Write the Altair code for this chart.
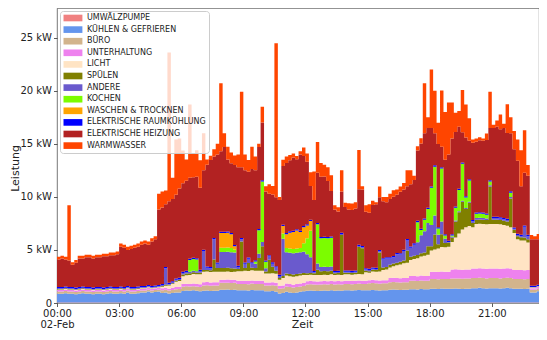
import altair as alt
import pandas as pd

SERIES = ["UMWÄLZPUMPE", "KÜHLEN & GEFRIEREN", "BÜRO", "UNTERHALTUNG", "LICHT", "SPÜLEN",
          "ANDERE", "KOCHEN", "WASCHEN & TROCKNEN", "ELEKTRISCHE RAUMKÜHLUNG",
          "ELEKTRISCHE HEIZUNG", "WARMWASSER"]
COLORS = ["#f08080", "#6495ed", "#d2b48c", "#ee82ee", "#ffe4c4", "#808000",
          "#6a5acd", "#7cfc00", "#ffa500", "#0000ff", "#b22222", "#ff4500"]

STEP_MIN = 10  # one value every 10 minutes, 00:00 .. 23:50 (6 values per row = 1 hour)

UMWAELZPUMPE = [
    0.05, 0.05, 0.05, 0.05, 0.05, 0.05,  0.05, 0.05, 0.05, 0.05, 0.05, 0.05,
    0.05, 0.05, 0.05, 0.05, 0.05, 0.05,  0.05, 0.05, 0.05, 0.05, 0.05, 0.05,
    0.05, 0.05, 0.05, 0.05, 0.05, 0.05,  0.05, 0.05, 0.05, 0.05, 0.05, 0.05,
    0.05, 0.05, 0.05, 0.05, 0.05, 0.05,  0.05, 0.05, 0.05, 0.05, 0.05, 0.05,
    0.05, 0.05, 0.05, 0.05, 0.05, 0.05,  0.05, 0.05, 0.05, 0.05, 0.05, 0.05,
    0.05, 0.05, 0.05, 0.05, 0.05, 0.05,  0.05, 0.05, 0.05, 0.05, 0.05, 0.05,
    0.05, 0.05, 0.05, 0.05, 0.05, 0.05,  0.05, 0.05, 0.05, 0.05, 0.05, 0.05,
    0.05, 0.05, 0.05, 0.05, 0.05, 0.05,  0.05, 0.05, 0.05, 0.05, 0.05, 0.05,
    0.05, 0.05, 0.05, 0.05, 0.05, 0.05,  0.05, 0.05, 0.05, 0.05, 0.05, 0.05,
    0.05, 0.05, 0.05, 0.05, 0.05, 0.05,  0.05, 0.05, 0.05, 0.05, 0.05, 0.05,
    0.05, 0.05, 0.05, 0.05, 0.05, 0.05,  0.05, 0.05, 0.05, 0.05, 0.05, 0.05,
    0.05, 0.05, 0.05, 0.05, 0.05, 0.05,  0.05, 0.05, 0.05, 0.05, 0.05, 0.05,
]
KUEHLEN = [
    0.83, 0.83, 0.88, 0.83, 0.83, 0.78,  0.83, 0.88, 0.83, 0.83, 0.78, 0.83,
    0.83, 0.78, 0.83, 0.88, 0.83, 0.83,  0.88, 0.83, 0.93, 0.83, 0.83, 0.88,
    0.93, 0.93, 1.03, 0.93, 0.98, 1.03,  0.90, 0.95, 0.85, 0.90, 0.95, 0.95,
    1.08, 1.12, 1.10, 1.14, 1.10, 1.06,  1.10, 1.12, 1.08, 1.10, 1.10, 1.20,
    1.20, 1.22, 1.18, 1.20, 1.15, 1.15,  1.15, 1.12, 1.18, 1.15, 1.15, 1.15,
    1.05, 1.05, 1.08, 1.02, 0.85, 0.90,  1.00, 0.95, 0.90, 0.95, 1.00, 1.05,
    1.10, 1.12, 1.10, 1.08, 1.10, 1.12,  1.10, 1.15, 1.10, 1.12, 1.10, 1.15,
    1.15, 1.12, 1.15, 1.18, 1.15, 1.15,  1.15, 1.18, 1.15, 1.12, 1.15, 1.15,
    1.20, 1.22, 1.20, 1.18, 1.20, 1.20,  1.25, 1.25, 1.22, 1.28, 1.25, 1.25,
    1.30, 1.30, 1.28, 1.32, 1.30, 1.30,  1.30, 1.32, 1.30, 1.28, 1.30, 1.30,
    1.35, 1.35, 1.38, 1.35, 1.32, 1.35,  1.35, 1.35, 1.32, 1.35, 1.38, 1.35,
    1.30, 1.30, 1.30, 1.28, 1.30, 0.95,  0.95, 1.05, 0.95, 1.05, 1.05, 0.95,
]
BUERO = [
    0.20, 0.20, 0.20, 0.20, 0.20, 0.20,  0.20, 0.20, 0.20, 0.20, 0.20, 0.20,
    0.20, 0.20, 0.20, 0.20, 0.20, 0.20,  0.20, 0.20, 0.20, 0.20, 0.20, 0.20,
    0.20, 0.20, 0.20, 0.20, 0.20, 0.20,  0.25, 0.25, 0.27, 0.28, 0.30, 0.32,
    0.40, 0.40, 0.40, 0.40, 0.40, 0.40,  0.50, 0.50, 0.50, 0.50, 0.50, 0.65,
    0.65, 0.65, 0.65, 0.65, 0.60, 0.60,  0.60, 0.60, 0.60, 0.60, 0.60, 0.60,
    0.55, 0.55, 0.55, 0.55, 0.45, 0.45,  0.50, 0.50, 0.50, 0.50, 0.50, 0.50,
    0.60, 0.60, 0.60, 0.60, 0.60, 0.60,  0.60, 0.60, 0.60, 0.60, 0.60, 0.60,
    0.60, 0.60, 0.60, 0.60, 0.60, 0.60,  0.65, 0.65, 0.65, 0.65, 0.65, 0.65,
    0.70, 0.70, 0.70, 0.70, 0.70, 0.70,  0.80, 0.80, 0.80, 0.80, 0.80, 0.80,
    0.90, 0.90, 0.90, 0.90, 0.90, 0.90,  0.95, 0.95, 0.95, 0.95, 0.95, 0.95,
    0.95, 0.95, 0.95, 0.95, 0.95, 0.95,  0.95, 0.95, 0.95, 0.95, 0.95, 0.95,
    0.90, 0.90, 0.90, 0.90, 0.90, 0.25,  0.25, 0.25, 0.25, 0.25, 0.25, 0.25,
]
UNTERHALTUNG = [
    0.15, 0.15, 0.15, 0.15, 0.15, 0.15,  0.15, 0.15, 0.15, 0.15, 0.15, 0.15,
    0.15, 0.15, 0.15, 0.15, 0.15, 0.15,  0.15, 0.15, 0.15, 0.15, 0.15, 0.15,
    0.15, 0.15, 0.15, 0.15, 0.15, 0.15,  0.18, 0.18, 0.18, 0.20, 0.20, 0.20,
    0.25, 0.25, 0.25, 0.25, 0.25, 0.25,  0.30, 0.30, 0.30, 0.30, 0.30, 0.30,
    0.30, 0.30, 0.30, 0.30, 0.30, 0.30,  0.30, 0.30, 0.30, 0.30, 0.30, 0.30,
    0.28, 0.28, 0.28, 0.28, 0.25, 0.25,  0.28, 0.28, 0.28, 0.28, 0.28, 0.28,
    0.30, 0.30, 0.30, 0.30, 0.30, 0.30,  0.30, 0.30, 0.30, 0.30, 0.30, 0.30,
    0.30, 0.30, 0.30, 0.30, 0.30, 0.30,  0.30, 0.30, 0.30, 0.30, 0.30, 0.30,
    0.40, 0.40, 0.40, 0.40, 0.40, 0.40,  0.45, 0.45, 0.45, 0.45, 0.45, 0.45,
    0.70, 0.70, 0.70, 0.70, 0.70, 0.70,  0.85, 0.85, 0.85, 0.85, 0.85, 0.85,
    0.90, 0.90, 0.90, 0.90, 0.90, 0.90,  0.90, 0.90, 0.90, 0.90, 0.90, 0.90,
    0.85, 0.85, 0.85, 0.85, 0.85, 0.15,  0.15, 0.15, 0.15, 0.15, 0.15, 0.15,
]
LICHT = [
    0.05, 0.05, 0.05, 0.05, 0.05, 0.05,  0.05, 0.05, 0.05, 0.05, 0.05, 0.05,
    0.05, 0.05, 0.05, 0.05, 0.05, 0.05,  0.05, 0.05, 0.05, 0.05, 0.05, 0.05,
    0.05, 0.05, 0.05, 0.05, 0.05, 0.05,  0.15, 0.20, 0.30, 0.35, 0.50, 0.55,
    0.75, 0.80, 0.85, 0.90, 0.90, 0.95,  1.00, 1.00, 1.00, 1.00, 1.00, 0.75,
    0.75, 0.75, 0.75, 0.75, 0.90, 0.90,  0.95, 0.95, 0.95, 0.95, 0.95, 0.95,
    0.85, 0.85, 0.85, 0.85, 0.60, 0.70,  0.75, 0.75, 0.75, 0.75, 0.75, 0.75,
    0.60, 0.60, 0.60, 0.60, 0.60, 0.60,  0.60, 0.60, 0.60, 0.60, 0.60, 0.60,
    0.60, 0.60, 0.60, 0.60, 0.60, 0.80,  0.70, 0.80, 0.80, 0.85, 0.95, 1.00,
    1.00, 1.10, 1.20, 1.30, 1.40, 1.45,  1.50, 1.60, 1.70, 1.80, 1.90, 2.00,
    2.00, 2.10, 2.20, 2.30, 2.30, 2.35,  2.60, 3.00, 3.40, 3.80, 4.00, 4.10,
    3.90, 4.20, 4.20, 4.20, 4.20, 4.20,  4.20, 4.20, 4.20, 4.10, 4.00, 3.90,
    3.50, 2.90, 2.80, 2.80, 2.60, 0.05,  0.05, 0.05, 0.05, 0.05, 0.05, 0.05,
]
SPUELEN = [
    0.05, 0.05, 0.05, 0.05, 0.05, 0.05,  0.05, 0.05, 0.05, 0.05, 0.05, 0.05,
    0.05, 0.05, 0.05, 0.05, 0.05, 0.05,  0.05, 0.05, 0.05, 0.05, 0.05, 0.05,
    0.05, 0.05, 0.05, 0.05, 0.05, 0.05,  0.08, 0.08, 0.08, 0.08, 0.10, 0.10,
    0.15, 0.15, 0.15, 0.15, 0.15, 0.15,  0.15, 0.15, 0.15, 1.15, 0.35, 0.35,
    0.35, 0.35, 0.35, 0.30, 0.20, 2.80,  0.25, 0.75, 0.25, 0.25, 1.20, 2.30,
    0.20, 1.30, 0.60, 0.30, 0.15, 0.20,  0.20, 0.20, 0.20, 0.20, 0.20, 0.20,
    0.15, 0.15, 0.15, 0.50, 0.35, 0.35,  0.35, 0.35, 0.15, 0.15, 3.75, 0.15,
    0.15, 0.15, 0.15, 2.55, 2.45, 0.15,  0.15, 0.15, 0.15, 1.80, 0.25, 0.25,
    0.25, 0.25, 0.25, 0.25, 0.25, 1.15,  0.30, 0.30, 0.30, 0.30, 0.30, 0.80,
    0.40, 1.40, 0.40, 1.20, 0.40, 0.40,  0.40, 1.50, 2.00, 2.60, 1.70, 2.20,
    0.40, 0.40, 0.40, 0.40, 0.40, 3.50,  0.40, 0.40, 0.40, 0.40, 0.40, 2.70,
    0.30, 0.30, 0.30, 0.30, 0.30, 0.03,  0.03, 0.03, 0.03, 0.03, 0.03, 0.03,
]
ANDERE = [
    0.05, 0.05, 0.05, 0.05, 0.05, 0.05,  0.05, 0.05, 0.05, 0.05, 0.05, 0.05,
    0.05, 0.05, 0.05, 0.05, 0.05, 0.05,  0.05, 0.05, 0.05, 0.05, 0.05, 0.05,
    0.05, 0.05, 0.05, 0.05, 0.05, 0.05,  0.07, 1.57, 0.07, 0.07, 0.10, 0.10,
    0.15, 0.15, 0.15, 0.15, 0.15, 0.15,  1.80, 0.20, 0.20, 1.90, 0.40, 1.50,
    1.50, 1.50, 1.50, 1.50, 0.20, 0.20,  0.40, 0.40, 0.40, 0.40, 0.40, 0.40,
    0.30, 0.30, 0.30, 0.30, 0.20, 3.50,  2.00, 2.00, 2.00, 2.00, 2.00, 2.00,
    1.80, 1.50, 0.10, 0.60, 0.40, 0.40,  0.40, 0.40, 0.10, 0.10, 0.10, 0.10,
    0.10, 0.10, 0.10, 0.10, 0.10, 0.10,  0.10, 0.10, 0.10, 0.10, 0.75, 0.80,
    0.60, 0.60, 0.80, 0.70, 0.90, 0.95,  0.85, 1.05, 1.20, 1.70, 2.00, 2.20,
    2.00, 1.80, 0.90, 1.20, 0.40, 0.05,  0.10, 0.10, 0.10, 0.10, 0.10, 0.10,
    0.15, 0.15, 0.15, 0.15, 0.15, 0.15,  0.15, 0.15, 0.15, 0.15, 0.15, 0.15,
    0.10, 0.10, 0.10, 1.00, 0.30, 0.02,  0.02, 0.02, 0.02, 0.02, 0.02, 0.02,
]
KOCHEN = [
    0.00, 0.00, 0.00, 0.00, 0.00, 0.00,  0.00, 0.00, 0.00, 0.00, 0.00, 0.00,
    0.00, 0.00, 0.00, 0.00, 0.00, 0.00,  0.00, 0.00, 0.00, 0.00, 0.00, 0.00,
    0.00, 0.00, 0.00, 0.00, 0.00, 0.00,  0.00, 0.00, 0.00, 0.00, 0.00, 0.00,
    0.00, 0.00, 1.10, 1.10, 1.10, 0.00,  0.00, 0.00, 0.00, 0.00, 0.00, 0.40,
    0.40, 0.40, 0.40, 0.30, 0.00, 0.00,  0.00, 0.00, 0.00, 0.20, 2.20, 5.70,
    0.60, 0.00, 0.00, 0.00, 0.00, 0.50,  0.40, 0.40, 0.40, 0.40, 0.40, 0.80,
    1.50, 2.50, 0.00, 3.70, 2.70, 2.70,  2.70, 2.70, 0.00, 0.00, 0.00, 0.00,
    0.00, 0.00, 0.00, 0.00, 0.00, 0.00,  0.00, 0.00, 0.00, 0.00, 0.00, 0.00,
    0.00, 0.00, 0.00, 0.00, 0.00, 0.00,  0.00, 0.00, 1.90, 0.50, 1.10, 1.30,
    3.50, 4.60, 0.60, 5.00, 0.30, 0.00,  0.10, 1.20, 2.00, 3.50, 1.00, 2.00,
    0.00, 0.40, 0.40, 0.40, 0.35, 0.35,  0.00, 0.00, 0.00, 0.00, 0.00, 0.40,
    0.00, 0.00, 0.00, 0.00, 0.00, 0.00,  0.00, 0.00, 0.00, 0.00, 0.00, 0.00,
]
WASCHEN = [
    0.00, 0.00, 0.00, 0.00, 0.00, 0.00,  0.00, 0.00, 0.00, 0.00, 0.00, 0.00,
    0.00, 0.00, 0.00, 0.00, 0.00, 0.00,  0.00, 0.00, 0.00, 0.00, 0.00, 0.00,
    0.00, 0.00, 0.00, 0.00, 0.00, 0.00,  0.00, 0.00, 0.00, 0.00, 0.00, 0.00,
    0.00, 0.00, 0.00, 0.00, 0.00, 0.00,  0.00, 0.00, 0.00, 0.00, 0.00, 1.40,
    1.40, 1.40, 1.30, 0.30, 0.00, 0.00,  0.00, 0.00, 0.00, 0.00, 0.00, 0.00,
    0.00, 0.00, 0.00, 0.00, 0.00, 0.70,  1.30, 1.50, 1.60, 1.70, 1.50, 1.50,
    1.20, 0.90, 0.00, 0.00, 0.00, 0.00,  0.00, 0.00, 0.00, 0.00, 0.00, 0.00,
    0.00, 0.00, 0.00, 0.00, 0.00, 0.00,  0.00, 0.00, 0.00, 0.00, 0.00, 0.00,
    0.00, 0.00, 0.00, 0.00, 0.00, 0.00,  0.00, 0.00, 0.00, 0.00, 0.00, 0.00,
    0.00, 0.00, 0.00, 0.00, 0.00, 0.00,  0.00, 0.00, 0.00, 0.00, 0.00, 0.00,
    0.00, 0.00, 0.00, 0.00, 0.00, 0.00,  0.00, 0.00, 0.00, 0.00, 0.00, 0.00,
    0.00, 0.00, 0.00, 0.00, 0.00, 0.00,  0.00, 0.00, 0.00, 0.00, 0.00, 0.00,
]
RAUMKUEHLUNG = [
    0.12, 0.12, 0.12, 0.12, 0.12, 0.12,  0.12, 0.12, 0.12, 0.12, 0.12, 0.12,
    0.12, 0.12, 0.12, 0.12, 0.12, 0.12,  0.12, 0.12, 0.12, 0.12, 0.12, 0.12,
    0.12, 0.12, 0.12, 0.12, 0.12, 0.12,  0.12, 0.12, 0.12, 0.12, 0.12, 0.12,
    0.12, 0.12, 0.12, 0.12, 0.12, 0.12,  0.12, 0.12, 0.12, 0.12, 0.12, 0.12,
    0.12, 0.12, 0.12, 0.12, 0.12, 0.12,  0.12, 0.12, 0.12, 0.12, 0.12, 0.12,
    0.12, 0.12, 0.12, 0.12, 0.12, 0.12,  0.12, 0.12, 0.12, 0.12, 0.12, 0.12,
    0.12, 0.12, 0.12, 0.12, 0.12, 0.12,  0.12, 0.12, 0.12, 0.12, 0.12, 0.12,
    0.12, 0.12, 0.12, 0.12, 0.12, 0.12,  0.12, 0.12, 0.12, 0.12, 0.12, 0.12,
    0.12, 0.12, 0.12, 0.12, 0.12, 0.12,  0.12, 0.12, 0.12, 0.12, 0.12, 0.12,
    0.12, 0.12, 0.12, 0.12, 0.12, 0.12,  0.12, 0.12, 0.12, 0.12, 0.12, 0.12,
    0.12, 0.12, 0.12, 0.12, 0.12, 0.12,  0.12, 0.12, 0.12, 0.12, 0.12, 0.12,
    0.12, 0.12, 0.12, 0.12, 0.12, 0.12,  0.12, 0.12, 0.12, 0.12, 0.12, 0.12,
]
HEIZUNG = [
    2.60, 2.70, 2.55, 2.50, 2.10, 2.35,  2.70, 2.65, 2.80, 2.80, 2.75, 2.80,
    2.80, 2.95, 2.90, 2.95, 3.00, 3.10,  3.75, 3.70, 3.40, 3.60, 3.70, 3.75,
    3.90, 4.00, 3.80, 4.20, 4.35, 7.10,  7.20, 5.90, 7.68, 7.75, 7.88, 8.41,
    8.33, 8.48, 7.63, 7.58, 7.68, 7.73,  7.48, 9.58, 10.08, 7.68, 10.18, 7.58,
    7.98, 6.78, 6.58, 7.53, 9.28, 6.68,  8.68, 8.08, 8.78, 8.48, 7.73, 5.43,
    6.50, 5.80, 6.40, 6.50, 7.03, 5.53,  6.60, 6.70, 6.90, 6.60, 7.20, 6.60,
    5.88, 3.18, 6.68, 4.73, 5.68, 5.68,  5.28, 4.28, 5.78, 5.58, 3.88, 5.98,
    5.73, 5.73, 5.83, 5.23, 5.33, 5.33,  5.28, 5.88, 5.98, 4.98, 5.38, 5.18,
    5.48, 5.58, 5.48, 5.78, 5.68, 4.98,  5.88, 5.98, 6.63, 8.03, 8.03, 7.53,
    5.53, 3.03, 7.83, 1.93, 7.03, 8.13,  9.03, 7.03, 5.83, 2.83, 5.53, 3.63,
    7.28, 6.68, 6.78, 6.78, 6.93, 4.93,  8.38, 8.48, 8.28, 8.48, 8.08, 5.48,
    7.38, 6.88, 4.58, 4.98, 5.58, 4.38,  4.38, 4.28, 4.48, 4.28, 4.38, 4.38,
]
WARMWASSER = [
    0.25, 0.25, 0.25, 5.20, 0.25, 0.25,  0.25, 0.25, 0.25, 0.25, 0.25, 0.25,
    0.25, 0.25, 0.25, 0.25, 0.25, 0.25,  0.30, 0.30, 0.30, 0.30, 0.30, 0.30,
    0.30, 0.30, 0.30, 0.30, 0.30, 1.50,  1.50, 1.30, 14.00, 2.00, 5.20, 4.70,
    3.10, 2.00, 6.90, 2.20, 2.50, 2.60,  3.50, 0.50, 0.40, 0.70, 1.00, 6.40,
    1.30, 1.20, 1.00, 0.90, 1.20, 7.10,  1.50, 1.10, 2.10, 1.30, 0.30, 1.50,
    0.50, 0.90, 0.80, 14.50, 0.30, 0.60,  0.60, 0.50, 0.40, 0.30, 0.30, 0.80,
    0.80, 1.30, 2.70, 2.90, 1.30, 1.10,  1.30, 1.50, 0.40, 0.40, 2.00, 0.40,
    0.60, 0.60, 0.60, 3.70, 0.30, 0.60,  0.80, 0.40, 0.20, 1.00, 0.40, 0.50,
    0.50, 0.60, 0.50, 0.50, 0.60, 1.50,  1.30, 0.40, 0.40, 0.50, 4.70, 1.00,
    5.50, 4.00, 2.00, 5.30, 4.50, 4.90,  3.40, 1.80, 1.50, 4.00, 3.10, 2.10,
    0.30, 0.30, 0.30, 0.20, 0.60, 3.40,  0.30, 0.60, 1.40, 0.40, 2.70, 1.50,
    1.70, 2.00, 3.40, 4.00, 1.00, 0.40,  0.30, 0.50, 2.40, 0.30, 2.20, 0.30,
]

X_TICK_HOURS = [0, 3, 6, 9, 12, 15, 18, 21]
X_TICK_LABELS = ["00:00", "03:00", "06:00", "09:00", "12:00", "15:00", "18:00", "21:00"]
DATE_LABEL = "02-Feb"
Y_TICKS = [0, 5, 10, 15, 20, 25]
Y_TICK_LABELS = ["0", "5 kW", "10 kW", "15 kW", "20 kW", "25 kW"]

VALUES = [UMWAELZPUMPE, KUEHLEN, BUERO, UNTERHALTUNG, LICHT, SPUELEN, ANDERE,
          KOCHEN, WASCHEN, RAUMKUEHLUNG, HEIZUNG, WARMWASSER]

rows = []
for k, (name, vals) in enumerate(zip(SERIES, VALUES)):
    for i, v in enumerate(vals):
        rows.append({"t": i * STEP_MIN / 60.0, "kw": v, "serie": name, "k": k})
df = pd.DataFrame(rows)

x_labels = "[" + ",".join("'%s'" % s for s in X_TICK_LABELS) + "]"
x_expr = ("datum.value == 0 ? ['%s', '%s'] : %s[round(datum.value / 3)]"
          % (X_TICK_LABELS[0], DATE_LABEL, x_labels))
y_labels = "[" + ",".join("'%s'" % s for s in Y_TICK_LABELS) + "]"
y_expr = "%s[round(datum.value / 5)]" % y_labels

FONT = "DejaVu Sans"

chart = alt.Chart(df).mark_area(interpolate="step-after", clip=True, strokeWidth=0).encode(
    x=alt.X("t:Q",
            scale=alt.Scale(domain=[0, 23.28], nice=False, zero=False),
            axis=alt.Axis(values=X_TICK_HOURS, labelExpr=x_expr, title="Zeit",
                          labelFlush=False, labelLineHeight=11,
                          titleX=245, titleY=24, titleBaseline="alphabetic")),
    y=alt.Y("kw:Q", stack="zero",
            scale=alt.Scale(domain=[0, 27.8], nice=False),
            axis=alt.Axis(values=Y_TICKS, labelExpr=y_expr, title="Leistung",
                          labelFlush=False,
                          titleX=-42, titleY=160, titleAlign="center",
                          titleBaseline="middle", titleAngle=270)),
    color=alt.Color("serie:N", scale=alt.Scale(domain=SERIES, range=COLORS),
                    legend=alt.Legend(title=None, orient="top-left", offset=3, padding=3,
                                      fillColor="rgba(255,255,255,0.8)",
                                      strokeColor="#cccccc", cornerRadius=3,
                                      labelFont=FONT, labelFontSize=8, labelColor="#222222",
                                      symbolType="M-1,-0.95L4.4,-0.95L4.4,0.95L-1,0.95Z",
                                      symbolSize=49, symbolStrokeWidth=0, symbolOpacity=1,
                                      labelOffset=16, rowPadding=3.6)),
    order=alt.Order("k:Q", sort="ascending"),
).properties(
    width=482, height=295,
    autosize=alt.AutoSizeParams(type="none"),
    padding={"left": 49, "top": 0, "right": 0, "bottom": 29},
).configure_axis(
    grid=False, domain=False,
    labelFont=FONT, labelFontSize=10, labelColor="#222222",
    titleFont=FONT, titleFontSize=11, titleFontWeight="normal", titleColor="#222222",
    tickColor="#333333", tickSize=3.5, tickWidth=0.8, labelPadding=2,
).configure_view(
    stroke="#555555", strokeWidth=0.8,
)

chart.save("out.html", embed_options={"renderer": "svg", "actions": False})
